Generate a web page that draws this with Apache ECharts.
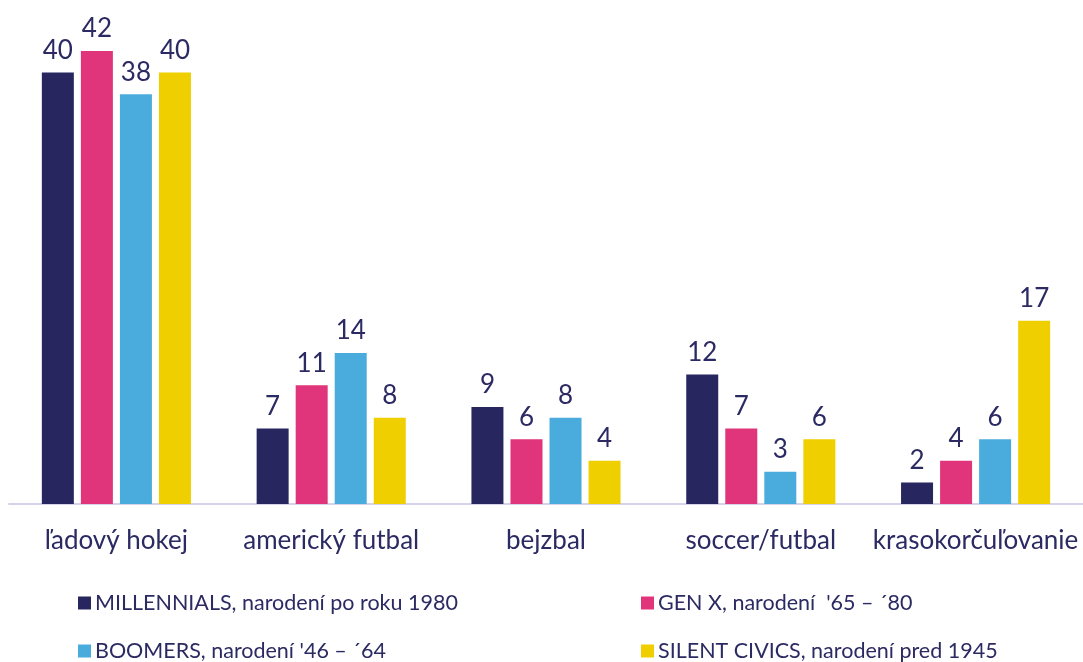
<!DOCTYPE html>
<html>
<head>
<meta charset="utf-8">
<script src="https://cdn.jsdelivr.net/npm/echarts@6/dist/echarts.min.js"></script>
<style>
  html, body { margin: 0; padding: 0; background: #fff; }
  #chart { width: 1083px; height: 662px; }
</style>
</head>
<body>
<div id="chart"></div>
<script>
const categories = ['ľadový hokej', 'americký futbal', 'bejzbal', 'soccer/futbal', 'krasokorčuľovanie']
const seriesNames = [
  'MILLENNIALS, narodení po roku 1980',
  'GEN X, narodení  \'65 – ´80',
  'BOOMERS, narodení \'46 – ´64',
  'SILENT CIVICS, narodení pred 1945'
]
const millennials = [40, 7, 9, 12, 2]
const genX = [42, 11, 6, 7, 4]
const boomers = [38, 14, 8, 3, 6]
const silent = [40, 8, 4, 6, 17]
const colors = ['#27265f', '#e0357a', '#4aacdc', '#f0cf00']

const textColor = '#2b2a62'
const fontFamily = 'Lato, "Open Sans", sans-serif'

var myChart = echarts.init(document.getElementById('chart'))

const values = [millennials, genX, boomers, silent]
const series = values.map(function (data, i) {
  return {
    name: seriesNames[i],
    type: 'bar',
    barWidth: 32,
    barGap: '22%',
    itemStyle: { color: colors[i] },
    label: {
      show: true,
      position: 'top',
      distance: 9,
      color: textColor,
      fontSize: 26,
      fontFamily: fontFamily
    },
    data: data
  }
})

// 图例位置 (列 x, 行 y)
const legendPos = [[78, 592], [641, 592], [78, 640], [641, 640]]
const legends = seriesNames.map(function (name, i) {
  return {
    left: legendPos[i][0],
    top: legendPos[i][1],
    padding: 0,
    itemWidth: 13,
    itemHeight: 13,
    itemGap: 6,
    icon: 'rect',
    textStyle: {
      color: textColor,
      fontSize: 21.5,
      fontFamily: fontFamily,
      padding: [0, 0, 0, -1]
    },
    data: [name]
  }
})

const option = {
  animation: false,
  grid: {
    left: 9,
    right: 0,
    top: 51,
    bottom: 158
  },
  legend: legends,
  xAxis: {
    type: 'category',
    data: categories,
    axisLine: {
      lineStyle: { color: '#d3d3ec', width: 2 }
    },
    axisTick: { show: false },
    axisLabel: {
      interval: 0,
      color: textColor,
      fontSize: 26,
      fontFamily: fontFamily,
      margin: 24
    }
  },
  yAxis: {
    type: 'value',
    min: 0,
    max: 42,
    show: false,
    splitLine: { show: false }
  },
  series: series
}

myChart.setOption(option)
</script>
</body>
</html>
